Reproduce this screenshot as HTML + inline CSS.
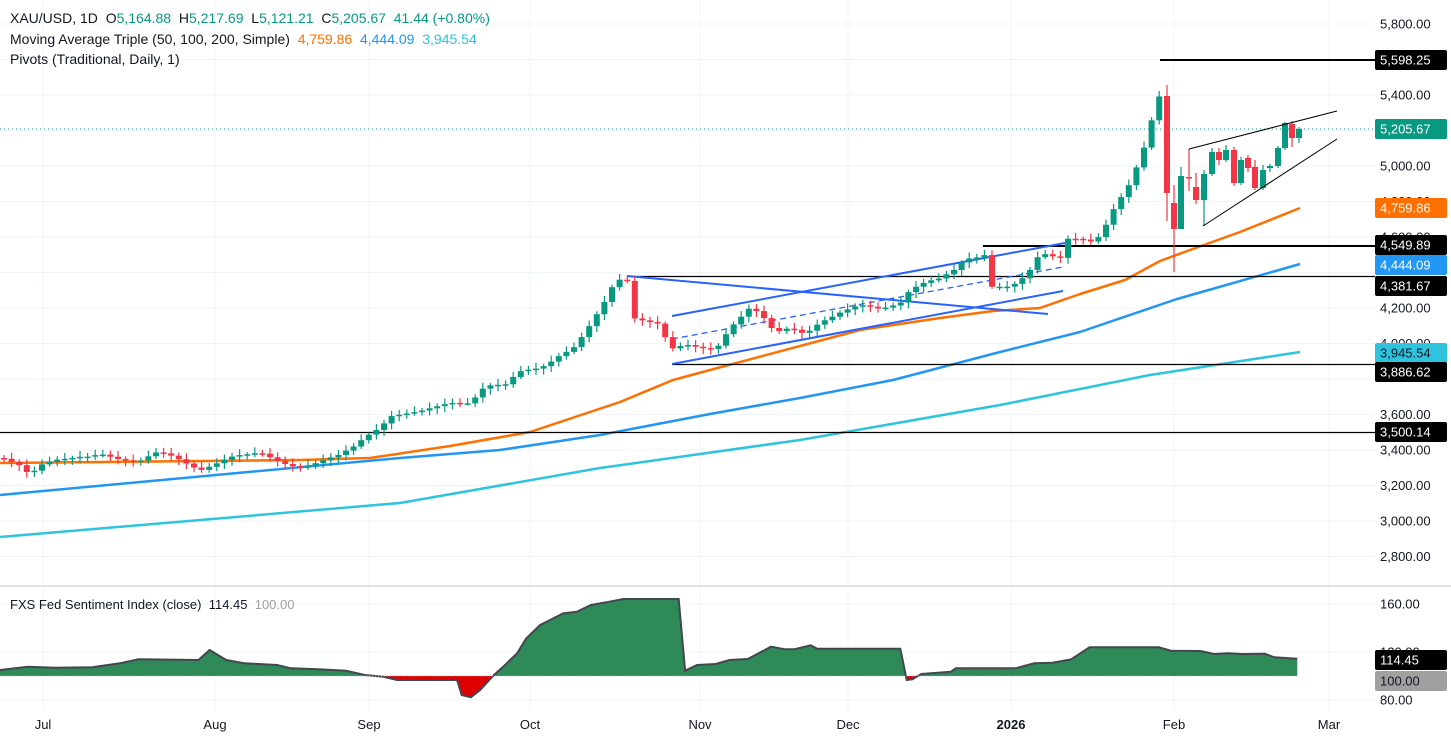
<!DOCTYPE html>
<html><head><meta charset="utf-8">
<style>
html,body{margin:0;padding:0;background:#fff;}
body{width:1451px;height:741px;overflow:hidden;font-family:"Liberation Sans",sans-serif;}
svg{display:block;}
text{font-family:"Liberation Sans",sans-serif;white-space:pre;}
</style></head>
<body>
<svg id="s" width="1451" height="741" xmlns="http://www.w3.org/2000/svg"></svg>
<script>
const S=document.getElementById('s');let h='';
const py=p=>166+(5000-p)/200*35.5;
for(let p=2800;p<=5800;p+=200){const y=py(p);h+=`<line x1="0" x2="1375" y1="${y}" y2="${y}" stroke="#f0f3fa"/>`;}
const months=[[43,'Jul'],[215,'Aug'],[369,'Sep'],[530,'Oct'],[700,'Nov'],[848,'Dec'],[1011,'2026'],[1174,'Feb'],[1329,'Mar']];
months.forEach(m=>{h+=`<line x1="${m[0]}" x2="${m[0]}" y1="0" y2="710" stroke="#f0f3fa"/>`;});
[604,652,700].forEach(y=>{h+=`<line x1="0" x2="1375" y1="${y}" y2="${y}" stroke="#f0f3fa"/>`;});
h+=`<line x1="0" x2="1451" y1="586" y2="586" stroke="#e0e3eb" stroke-width="2"/>`;
const pl=(pts,c,w)=>`<polyline fill="none" stroke="${c}" stroke-width="${w}" stroke-linejoin="round" points="${pts.map(p=>p.join(',')).join(' ')}"/>`;
h+=pl([[0,537],[400,503],[600,468],[800,440],[1000,405],[1150,375],[1300,352]],'#2ec4dd',2.5);
h+=pl([[0,495],[400,458],[500,450],[600,435],[710,414],[800,398],[893,380],[1000,352],[1080,332],[1177,299],[1300,264]],'#2196f3',2.5);
h+=pl([[0,463],[300,460],[370,458],[450,446],[530,432],[620,402],[673,380],[710,370],[860,330],[940,318],[993,311],[1040,308],[1080,294],[1125,280],[1160,261],[1190,250],[1240,232],[1300,208]],'#ff7000',2.5);
h+=`<line x1="1160" x2="1375" y1="60" y2="60" stroke="#000" stroke-width="2"/>`;
h+=`<line x1="983" x2="1375" y1="246" y2="246" stroke="#000" stroke-width="2"/>`;
h+=`<line x1="627" x2="1375" y1="276.5" y2="276.5" stroke="#000" stroke-width="1.3"/>`;
h+=`<line x1="672" x2="1375" y1="364.5" y2="364.5" stroke="#000" stroke-width="1.3"/>`;
h+=`<line x1="0" x2="1375" y1="432.5" y2="432.5" stroke="#000" stroke-width="1.3"/>`;
h+=`<line x1="672" y1="316" x2="1065" y2="243" stroke="#2962ff" stroke-width="2"/>`;
h+=`<line x1="672" y1="364" x2="1063" y2="291" stroke="#2962ff" stroke-width="2"/>`;
h+=`<line x1="672" y1="339" x2="1063" y2="267" stroke="#2962ff" stroke-width="1.3" stroke-dasharray="6,4"/>`;
h+=`<line x1="627" y1="276" x2="1048" y2="314" stroke="#2962ff" stroke-width="2"/>`;
h+=`<line x1="0" x2="1375" y1="129" y2="129" stroke="#089981" stroke-dasharray="1,3"/>`;
const K=[[0,458],[20,462],[30,470],[40,460],[55,458],[70,461],[90,462],[100,458],[120,459],[140,458],[155,450],[165,452],[175,456],[185,462],[200,470],[215,465],[230,460],[250,458],[260,455],[280,459],[300,462],[320,460],[340,458],[355,450],[365,440],[378,430],[392,415],[420,410],[450,400],[470,402],[485,388],[505,390],[520,375],[540,366],[560,350],[575,343],[590,325],[603,307],[612,290],[620,282],[627,282],[634,320],[660,325],[670,350],[686,344],[700,345],[716,345],[730,325],[750,310],[760,318],[775,338],[790,330],[805,332],[820,318],[840,310],[860,305],[880,310],[900,305],[910,292],[925,285],[940,280],[955,268],[965,255],[978,252],[985,250],[992,283],[1000,285],[1010,288],[1020,285],[1030,275],[1040,258],[1050,258],[1060,260],[1065,238],[1080,236],[1095,240],[1105,225],[1115,205],[1128,186],[1140,158],[1150,130],[1155,99],[1162,96]];
function interp(x){for(let i=0;i<K.length-1;i++){if(x>=K[i][0]&&x<=K[i+1][0]){const t=(x-K[i][0])/(K[i+1][0]-K[i][0]);return K[i][1]+t*(K[i+1][1]-K[i][1]);}}return K[K.length-1][1];}
const C=[];let prev=458;
for(let x=4;x<1162;x+=7.6){const c=interp(x)+Math.sin(x*1.7)*3.5+Math.cos(x*0.9)*2;const o=prev;const hi=Math.min(o,c)-2-Math.abs(Math.sin(x*2.3))*4;const lo=Math.max(o,c)+2+Math.abs(Math.cos(x*1.3))*4;C.push([x,o,c,hi,lo]);prev=c;}
C.push([1167,96,193,85,221],[1174,203,229,185,272],[1181,229,176,167,229],[1189,177,178,149,191],[1196,187,200,173,204],[1204,200,174,170,226],[1212,174,152,148,176],[1219,152,160,148,165],[1226,160,150,145,162],[1234,150,183,147,186],[1241,183,160,157,185],[1248,158,168,155,172],[1255,167,188,160,190],[1263,188,170,165,190],[1270,168,166,164,172],[1278,166,148,146,168],[1285,148,123,122,150],[1292,124,138,121,147],[1299,138,129,127,143]);
C.forEach(k=>{const[x,o,c,hi,lo]=k;const col=c<=o?'#089981':'#f23645';const top=Math.min(o,c),b=Math.max(Math.abs(c-o),1.5);h+=`<line x1="${x}" x2="${x}" y1="${hi}" y2="${lo}" stroke="${col}" stroke-width="1.2"/><rect x="${x-3}" y="${top}" width="6" height="${b}" fill="${col}"/>`;});
h+=`<line x1="1189" y1="149" x2="1337" y2="111" stroke="#000" stroke-width="1"/><line x1="1203" y1="226" x2="1337" y2="139" stroke="#000" stroke-width="1"/>`;
const Z=[[0,270],[30,260],[60,263],[100,262],[130,250],[150,238],[215,240],[227,210],[245,240],[265,250],[300,255],[315,265],[345,268],[375,272],[395,285],[415,290],[430,300],[495,300],[500,345],[510,352],[520,330],[535,285],[545,260],[560,220],[570,175],[585,135],[610,100],[625,95],[640,75],[660,65],[675,57],[735,57],[742,272],[755,255],[775,252],[790,240],[810,237],[820,222],[835,200],[850,208],[860,208],[878,196],[885,206],[975,206],[982,300],[988,298],[998,282],[1030,275],[1035,265],[1100,265],[1120,250],[1140,248],[1160,238],[1180,202],[1255,202],[1268,212],[1300,213],[1315,222],[1330,220],[1345,222],[1370,221],[1380,232],[1405,236]].map(p=>[(p[0]/1.083).toFixed(1),(580+p[1]/3).toFixed(1)]);
const base=676;
const area=`M${Z[0][0]},${base} `+Z.map(p=>'L'+p[0]+','+p[1]).join(' ')+` L${Z[Z.length-1][0]},${base} Z`;
h+=`<defs><clipPath id="ab"><rect x="0" y="0" width="1451" height="${base}"/></clipPath><clipPath id="bb"><rect x="0" y="${base}" width="1451" height="100"/></clipPath></defs>`;
h+=`<path d="${area}" fill="#2e8b57" clip-path="url(#ab)"/><path d="${area}" fill="#e00000" clip-path="url(#bb)"/>`;
h+=`<polyline fill="none" stroke="#434651" stroke-width="2" points="${Z.map(p=>p.join(',')).join(' ')}"/>`;
h+=`<line x1="0" x2="1298" y1="${base}" y2="${base}" stroke="#b2b5be" stroke-dasharray="1,2"/>`;
const lab=(y,t)=>{h+=`<text x="1380" y="${y+4.5}" font-size="13" fill="#131722">${t}</text>`;};
[[5800,'5,800.00'],[5400,'5,400.00'],[5000,'5,000.00'],[4800,'4,800.00'],[4600,'4,600.00'],[4200,'4,200.00'],[4000,'4,000.00'],[3600,'3,600.00'],[3400,'3,400.00'],[3200,'3,200.00'],[3000,'3,000.00'],[2800,'2,800.00']].forEach(a=>lab(py(a[0]),a[1]));
lab(604,'160.00');lab(652,'120.00');lab(700,'80.00');
const box=(y,t,bg,fg)=>{h+=`<rect x="1375" y="${y-10}" width="72" height="20" rx="2" fill="${bg}"/><text x="1380" y="${y+4.5}" font-size="13" fill="${fg||'#fff'}">${t}</text>`;};
box(60,'5,598.25','#000');box(129,'5,205.67','#089981');box(208,'4,759.86','#ff7000');
box(245,'4,549.89','#000');box(265,'4,444.09','#2196f3');box(286,'4,381.67','#000');
box(353,'3,945.54','#2ec4dd','#131722');box(372,'3,886.62','#000');box(432,'3,500.14','#000');
box(660,'114.45','#000');box(681,'100.00','#a0a0a0','#131722');
months.forEach(m=>{h+=`<text x="${m[0]}" y="729" font-size="13" fill="#131722" text-anchor="middle" ${m[1]=='2026'?'font-weight="bold"':''}>${m[1]}</text>`;});
h+=`<text x="10" y="23" font-size="14" fill="#131722" xml:space="preserve">XAU/USD, 1D  O<tspan fill="#089981">5,164.88</tspan>  H<tspan fill="#089981">5,217.69</tspan>  L<tspan fill="#089981">5,121.21</tspan>  C<tspan fill="#089981">5,205.67</tspan>  <tspan fill="#089981">41.44 (+0.80%)</tspan></text>`;
h+=`<text x="10" y="44" font-size="14" fill="#131722" xml:space="preserve">Moving Average Triple (50, 100, 200, Simple)  <tspan fill="#ff7000">4,759.86</tspan>  <tspan fill="#2196f3">4,444.09</tspan>  <tspan fill="#2ec4dd">3,945.54</tspan></text>`;
h+=`<text x="10" y="64" font-size="14" fill="#131722">Pivots (Traditional, Daily, 1)</text>`;
h+=`<text x="10" y="609" font-size="13" fill="#131722" xml:space="preserve">FXS Fed Sentiment Index (close)  114.45  <tspan fill="#a0a0a0">100.00</tspan></text>`;
S.innerHTML=h;
</script>
</body></html>
